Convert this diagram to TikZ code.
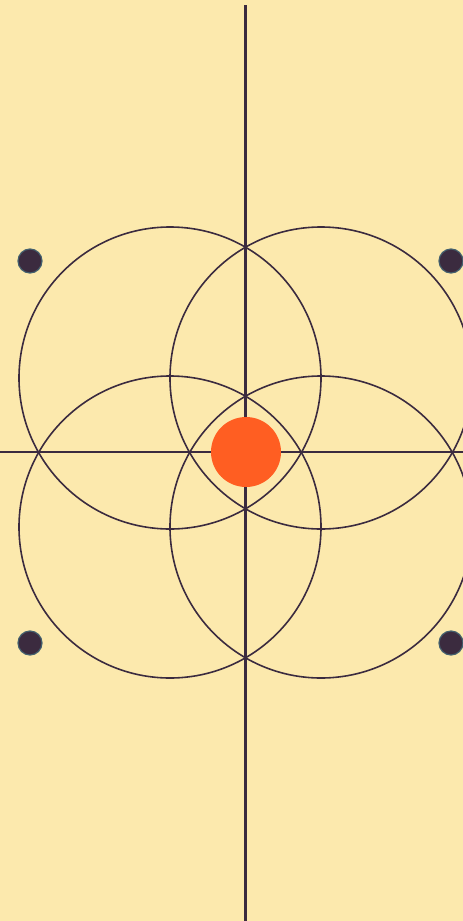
\documentclass[tikz,border=0pt]{standalone}
\definecolor{bg}{HTML}{FCE9AD}
\definecolor{ink}{HTML}{3B2B3F}
\definecolor{dotedge}{HTML}{44606E}
\definecolor{sun}{HTML}{FF5E22}
\begin{document}
\begin{tikzpicture}[x=1pt,y=-1pt,
  ring/.style={draw=ink,line width=1.6pt},
  axis/.style={draw=ink,line width=2.2pt},
  corner/.style={circle,fill=ink,draw=dotedge,line width=1.2pt,minimum size=24pt,inner sep=0pt}]
\fill[bg] (0,0) rectangle (463,921);
\useasboundingbox (0,0) rectangle (463,921);
\coordinate (top) at (245.5,5);
\coordinate (bot) at (245.5,921);
\coordinate (lft) at (0,452);
\coordinate (rgt) at (463,452);
\draw[axis,line width=3pt] (top) -- (bot);
\draw[axis] (lft) -- (rgt);
\draw[ring] (170,378) circle (151);
\draw[ring] (321,378) circle (151);
\draw[ring] (170,527) circle (151);
\draw[ring] (321,527) circle (151);
\node[circle,fill=sun,minimum size=70pt,inner sep=0pt] (center) at (246,452) {};
\node[corner] (d1) at (30,261) {};
\node[corner] (d2) at (451,261) {};
\node[corner] (d3) at (30,643) {};
\node[corner] (d4) at (451,643) {};
\end{tikzpicture}
\end{document}
